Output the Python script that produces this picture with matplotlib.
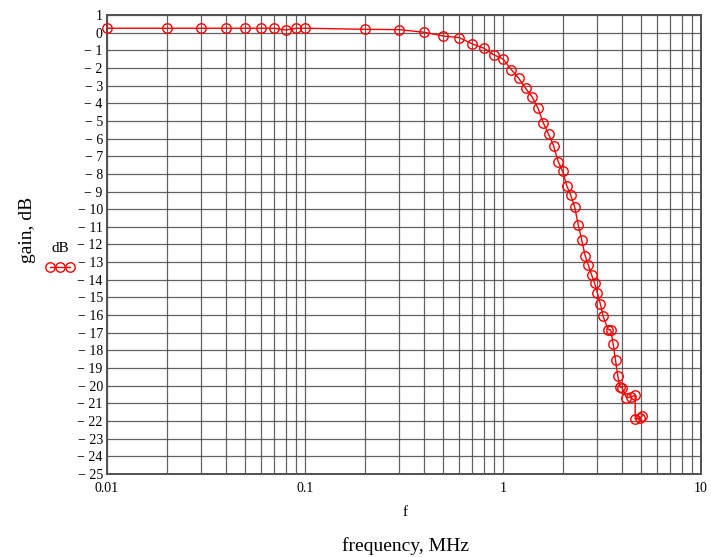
import matplotlib
matplotlib.use("Agg")
import matplotlib.pyplot as plt
from matplotlib.ticker import FixedLocator, NullFormatter, LogLocator

plt.rcParams['font.family'] = ['Liberation Serif', 'DejaVu Serif']

freq_mhz = [0.01, 0.02, 0.03, 0.04, 0.05, 0.06, 0.07, 0.08, 0.09, 0.1,
            0.2, 0.3, 0.4, 0.5, 0.6, 0.7, 0.8, 0.9, 1.0,
            1.1, 1.2, 1.3, 1.4, 1.5, 1.6, 1.7, 1.8, 1.9, 2.0,
            2.1, 2.2, 2.3, 2.4, 2.5, 2.6, 2.7, 2.8, 2.9, 3.0,
            3.1, 3.2, 3.4, 3.5, 3.6, 3.7, 3.8, 3.9, 4.0,
            4.2, 4.45, 4.65, 4.65, 4.9, 5.05]
gain_db = [0.25, 0.25, 0.25, 0.25, 0.25, 0.25, 0.25, 0.15, 0.25, 0.25,
           0.19, 0.17, 0.02, -0.19, -0.28, -0.64, -0.88, -1.26, -1.49,
           -2.09, -2.58, -3.15, -3.62, -4.26, -5.13, -5.76, -6.4, -7.3, -7.84,
           -8.68, -9.21, -9.86, -10.9, -11.76, -12.64, -13.18, -13.71, -14.18, -14.75,
           -15.35, -16.05, -16.83, -16.83, -17.63, -18.55, -19.46, -20.07, -20.12,
           -20.67, -20.63, -20.54, -21.88, -21.85, -21.7]

y_ticks = list(range(-25, 2))
y_tick_labels = [("\u2212 %d" % -v) if v < 0 else str(v) for v in y_ticks]
x_ticks = [0.01, 0.1, 1, 10]
x_tick_labels = ["0.01", "0.1", "1", "10"]

W, H = 711, 557
fig = plt.figure(figsize=(W / 100, H / 100), dpi=100)
ax = fig.add_axes([107 / W, 1 - 474 / H, (701 - 107) / W, (474 - 15) / H])

line, = ax.plot(freq_mhz, gain_db, color='#ff0000', lw=1.0, marker='o',
                markersize=6.8, markerfacecolor='none', markeredgecolor='#ff0000',
                markeredgewidth=1.0, zorder=3, clip_on=False)

ax.set_xscale('log')
ax.set_xlim(0.01, 10)
ax.set_ylim(-25, 1)

ax.xaxis.set_major_locator(FixedLocator(x_ticks))
ax.set_xticklabels(x_tick_labels)
ax.xaxis.set_minor_locator(LogLocator(base=10, subs=range(2, 10), numticks=20))
ax.xaxis.set_minor_formatter(NullFormatter())
ax.set_yticks(y_ticks)
ax.set_yticklabels(y_tick_labels)

ax.grid(True, which='both', axis='x', color='#484848', lw=0.9, alpha=0.85)
ax.grid(True, which='major', axis='y', color='#484848', lw=0.9, alpha=0.85)
ax.tick_params(which='both', length=0, labelsize=10, pad=3)
ax.tick_params(axis='x', pad=6)
for s in ax.spines.values():
    s.set_color('#505050')
    s.set_linewidth(1.4)

fig.text(405 / W, 1 - 513 / H, "f", ha='center', va='center', fontsize=11)
fig.text(405 / W, 1 - 546 / H, "frequency, MHz", ha='center', va='center', fontsize=14)
fig.text(27 / W, 1 - 230 / H, "gain, dB", ha='center', va='center', fontsize=14,
         rotation=90)

leg = ax.legend([line], [''], title='dB', loc='center',
                bbox_to_anchor=(60 / W, 1 - 258 / H), bbox_transform=fig.transFigure,
                numpoints=3, handlelength=2.0, frameon=False, borderpad=0,
                handletextpad=0, title_fontsize=11)
leg.get_title().set_fontfamily(['Liberation Serif', 'DejaVu Serif'])

fig.savefig("out.png", dpi=100)
